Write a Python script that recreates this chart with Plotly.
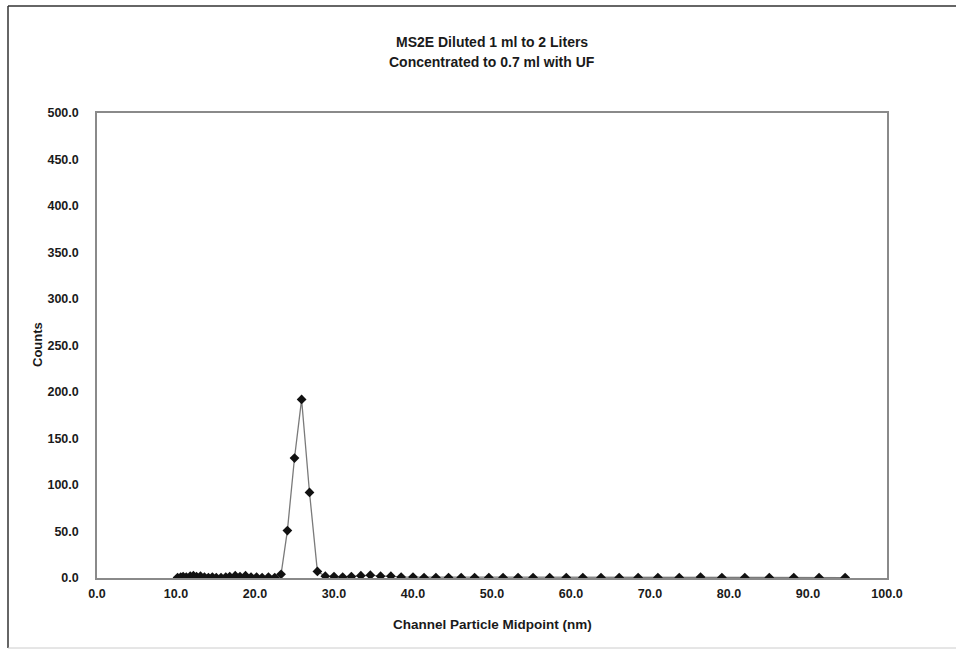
import plotly.graph_objects as go

# Channel particle midpoints (nm) and counts per channel
midpoint_nm = [
    10.2, 10.6, 10.9, 11.3, 11.8, 12.2, 12.6, 13.1, 13.6, 14.1, 14.6, 15.1,
    15.7, 16.3, 16.8, 17.5, 18.1, 18.8, 19.5, 20.2, 20.9, 21.7, 22.5, 23.3,
    24.1, 25.0, 25.9, 26.9, 27.9, 28.9, 30.0, 31.1, 32.2, 33.4, 34.6, 35.9,
    37.2, 38.5, 40.0, 41.4, 42.9, 44.5, 46.1, 47.8, 49.6, 51.4, 53.3, 55.2,
    57.3, 59.4, 61.5, 63.8, 66.1, 68.5, 71.0, 73.7, 76.4, 79.1, 82.0, 85.1,
    88.2, 91.4, 94.7,
]
counts = [
    0.5, 1.0, 1.5, 1.0, 2.0, 2.5, 1.5, 2.0, 1.0, 0.5, 1.0, 0.5,
    0.5, 1.0, 1.5, 2.5, 1.5, 2.5, 1.0, 1.0, 0.5, 1.0, 0.5, 4.0,
    51.0, 129.0, 192.0, 92.0, 7.0, 2.0, 1.5, 1.0, 1.5, 2.5, 3.0, 2.0,
    2.0, 1.0, 1.0, 0.5, 0.5, 0.5, 0.5, 0.5, 0.5, 0.5, 0.5, 0.5,
    0.5, 0.5, 0.5, 0.5, 0.5, 0.5, 0.5, 0.5, 1.0, 0.5, 0.5, 0.5,
    0.5, 0.5, 0.5,
]

x_ticks = [0, 10, 20, 30, 40, 50, 60, 70, 80, 90, 100]
y_ticks = [0, 50, 100, 150, 200, 250, 300, 350, 400, 450, 500]

title_lines = ["MS2E Diluted 1 ml to 2 Liters", "Concentrated to 0.7 ml with UF"]
x_title = "Channel Particle Midpoint (nm)"
y_title = "Counts"

FONT = "Liberation Sans, Arial, sans-serif"
INK = "#1a1a1a"

W, H = 956, 651
L, R, T, B = 97, 69, 113, 73
PW, PH = W - L - R, H - T - B


def px_x(px):
    """Horizontal pixel position -> paper coordinate."""
    return (px - L) / PW


def px_y(py):
    """Vertical pixel position (from top) -> paper coordinate."""
    return 1 - (py - T) / PH


fig = go.Figure()
fig.add_trace(go.Scatter(
    x=midpoint_nm,
    y=counts,
    mode="lines+markers",
    line=dict(color="#7a7a7a", width=1.3),
    marker=dict(symbol="diamond", size=7.5, color="#111111"),
    showlegend=False,
))

fig.update_layout(
    width=W,
    height=H,
    margin=dict(l=L, r=R, t=T, b=B),
    paper_bgcolor="white",
    plot_bgcolor="white",
    font=dict(family=FONT, size=13, color=INK, weight="bold"),
    xaxis=dict(
        range=[0, 100],
        tickvals=x_ticks,
        ticktext=[f"{v:.1f}" for v in x_ticks],
        tickfont=dict(size=12.5),
        showgrid=False,
        zeroline=False,
        showline=True,
        linecolor="#8a8a8a",
        linewidth=1.5,
        mirror=True,
        ticks="",
        ticklabelstandoff=3,
    ),
    yaxis=dict(
        range=[0, 500],
        tickvals=y_ticks,
        ticktext=[f"{v:.1f}" for v in y_ticks],
        tickfont=dict(size=12.5),
        showgrid=False,
        zeroline=False,
        showline=True,
        linecolor="#8a8a8a",
        linewidth=1.5,
        mirror=True,
        ticks="",
        ticklabelstandoff=14,
    ),
)

# Two-line chart title
for text, cy in zip(title_lines, [42, 62]):
    fig.add_annotation(
        text=text, xref="paper", yref="paper",
        x=px_x((L + W - R) / 2), y=px_y(cy),
        xanchor="center", yanchor="middle", showarrow=False,
        font=dict(family=FONT, size=14, color=INK, weight="bold"),
    )

# Axis titles
fig.add_annotation(
    text=x_title, xref="paper", yref="paper",
    x=px_x((L + W - R) / 2), y=px_y(624),
    xanchor="center", yanchor="middle", showarrow=False,
    font=dict(family=FONT, size=13.5, color=INK, weight="bold"),
)
fig.add_annotation(
    text=y_title, xref="paper", yref="paper",
    x=px_x(37), y=px_y(345), textangle=-90,
    xanchor="center", yanchor="middle", showarrow=False,
    font=dict(family=FONT, size=13, color=INK, weight="bold"),
)

# Outer chart frame (left, top and bottom edges)
frame = dict(type="line", xref="paper", yref="paper",
             line=dict(color="#333333", width=1.5))
fig.add_shape(x0=px_x(8), x1=px_x(8), y0=px_y(648), y1=px_y(6), **frame)
fig.add_shape(x0=px_x(8), x1=px_x(W + 10), y0=px_y(6), y1=px_y(6), **frame)
fig.add_shape(x0=px_x(8), x1=px_x(W + 10), y0=px_y(648), y1=px_y(648),
              **{**frame, "line": dict(color="#cccccc", width=1)})

fig.write_html("out.html")
